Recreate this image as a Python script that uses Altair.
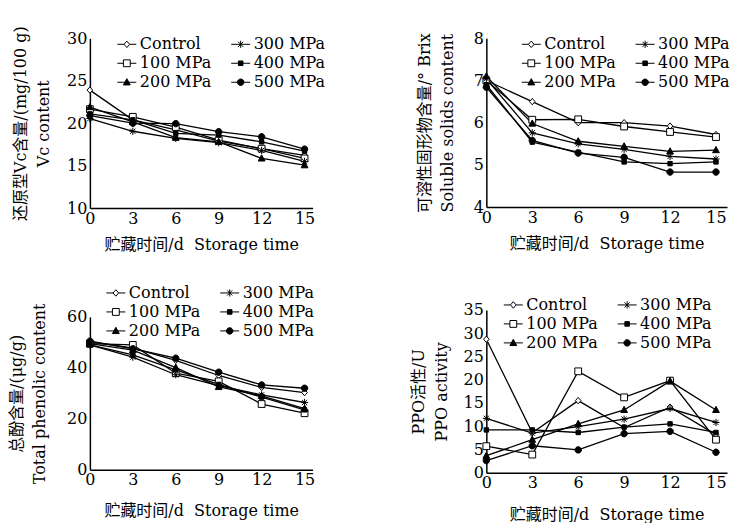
import altair as alt
import pandas as pd

days = [0, 3, 6, 9, 12, 15]
series = ["Control", "100 MPa", "200 MPa", "300 MPa", "400 MPa", "500 MPa"]

vc_values = [
    [23.9, 20.4, 19.2, 17.9, 17.0, 16.2],
    [21.65, 20.75, 19.55, 18.0, 17.0, 15.85],
    [21.9, 20.15, 18.3, 17.8, 15.85, 15.05],
    [20.55, 19.05, 18.2, 17.7, 16.8, 15.5],
    [21.1, 20.4, 18.8, 18.6, 17.8, 16.7],
    [20.9, 20.0, 19.95, 19.0, 18.4, 16.95],
]
ssc_values = [
    [7.0, 6.5, 6.0, 6.0, 5.92, 5.72],
    [7.0, 6.07, 6.08, 5.91, 5.78, 5.66],
    [7.1, 5.98, 5.56, 5.44, 5.32, 5.35],
    [7.04, 5.76, 5.5, 5.37, 5.2, 5.14],
    [6.9, 5.54, 5.3, 5.07, 5.03, 5.07],
    [6.84, 5.58, 5.28, 5.18, 4.83, 4.83],
]
tpc_values = [
    [50.3, 47.7, 42.9, 37.0, 32.3, 30.3],
    [49.5, 49.0, 37.9, 34.7, 25.8, 22.2],
    [49.5, 47.0, 40.1, 32.5, 29.0, 24.0],
    [49.0, 44.2, 37.3, 33.0, 29.4, 26.4],
    [49.0, 45.1, 39.2, 33.5, 28.5, 23.5],
    [50.5, 47.5, 43.8, 38.3, 33.3, 32.0],
]
ppo_values = [
    [28.7, 8.6, 15.5, 9.7, 14.1, 8.2],
    [5.7, 3.9, 21.8, 16.2, 19.8, 7.1],
    [3.65, 7.1, 10.5, 13.5, 19.7, 13.5],
    [11.7, 8.5, 9.9, 11.5, 13.8, 10.8],
    [9.2, 9.2, 8.65, 9.8, 10.5, 8.65],
    [2.6, 5.8, 4.9, 8.4, 8.9, 4.4],
]

FONT = "'DejaVu Serif', 'Noto Sans CJK SC', serif"
XTITLE = "贮藏时间/d\u00a0 Storage time"

plot_paths = {
    "Control": "M0,-0.8L0.7,0L0,0.8L-0.7,0Z",
    "100 MPa": "M-0.85,-0.85H0.85V0.85H-0.85Z",
    "200 MPa": "M0,-0.9L0.85,0.65H-0.85Z",
    "300 MPa": "M-0.9,0H0.9M0,-0.9V0.9M-0.65,-0.65L0.65,0.65M-0.65,0.65L0.65,-0.65",
    "400 MPa": "M-0.55,-0.55H0.55V0.55H-0.55Z",
    "500 MPa": "M0.8,0A0.8,0.8,0,1,1,-0.8,0A0.8,0.8,0,1,1,0.8,0Z",
}
legend_paths = {
    "Control": "M-1,0H-0.3M0.3,0H1M0,-0.34L0.3,0L0,0.34L-0.3,0Z",
    "100 MPa": "M-1,0H-0.36M0.36,0H1M-0.36,-0.36H0.36V0.36H-0.36Z",
    "200 MPa": "M-1,0H1M0,-0.38L0.36,0.28H-0.36Z",
    "300 MPa": "M-1,0H1M0,-0.38V0.38M-0.27,-0.27L0.27,0.27M-0.27,0.27L0.27,-0.27",
    "400 MPa": "M-1,0H1M-0.24,-0.24H0.24V0.24H-0.24Z",
    "500 MPa": "M-1,0H1M0.34,0A0.34,0.34,0,1,1,-0.34,0A0.34,0.34,0,1,1,0.34,0Z",
}
fills = {"Control": "white", "100 MPa": "white", "200 MPa": "black",
         "300 MPa": "black", "400 MPa": "black", "500 MPa": "black"}


def long_df(values):
    rows = []
    for s, vals in zip(series, values):
        for d, v in zip(days, vals):
            rows.append({"day": d, "value": v, "series": s})
    return pd.DataFrame(rows)


def make_legend(lx, ly):
    return alt.Legend(
        title=None, orient="none", legendX=lx, legendY=ly, columns=2,
        columnPadding=17, rowPadding=1, symbolSize=361, labelFont=FONT,
        labelFontSize=16, labelColor="black", labelOffset=3, padding=0,
        symbolStrokeColor="black", symbolStrokeWidth=1,
    )


def panel(values, ydom, yvals, ytitle, w, h, xmax, ext, ytp, xtp, lx, ly):
    df = long_df(values)
    x = alt.X("day:Q", scale=alt.Scale(domain=[0, xmax], nice=False, zero=False),
              axis=alt.Axis(values=days, title=XTITLE, labelFlush=False,
                            labelPadding=2, titlePadding=xtp))
    y = alt.Y("value:Q", scale=alt.Scale(domain=ydom, nice=False, zero=False),
              axis=alt.Axis(values=yvals, title=ytitle, minExtent=ext, maxExtent=ext,
                            labelPadding=3, titlePadding=ytp, titleLineHeight=23))
    base = alt.Chart(df)
    lines = base.mark_line(color="black", strokeWidth=1.3).encode(
        x=x, y=y, detail="series:N")
    pts = base.mark_point(filled=True, size=64, stroke="black", strokeWidth=1, opacity=1).encode(
        x=x, y=y,
        shape=alt.Shape("series:N", scale=alt.Scale(domain=series,
                        range=[plot_paths[s] for s in series]), legend=None),
        fill=alt.Fill("series:N", scale=alt.Scale(domain=series,
                      range=[fills[s] for s in series]), legend=None),
    )
    leg = make_legend(lx, ly)
    key = base.transform_filter("false").mark_point(
        filled=True, size=64, strokeWidth=1, opacity=1).encode(
        x=x, y=y,
        shape=alt.Shape("series:N", scale=alt.Scale(domain=series,
                        range=[legend_paths[s] for s in series]), legend=leg),
        fill=alt.Fill("series:N", scale=alt.Scale(domain=series,
                      range=[fills[s] for s in series]), legend=leg),
        stroke=alt.Stroke("series:N", scale=alt.Scale(domain=series,
                          range=["black"] * len(series)), legend=leg),
    )
    return alt.layer(lines, pts, key).resolve_scale(
        shape="independent", fill="independent", stroke="independent"
    ).properties(width=w, height=h)


p1 = panel(vc_values, [10, 30], [10, 15, 20, 25, 30],
           ["还原型Vc含量/(mg/100 g)", "Vc content"], 223, 170, 15.56, 23, 15, 10, 27, -4)
p2 = panel(ssc_values, [4, 8], [4, 5, 6, 7, 8],
           ["可溶性固形物含量/° Brix", "Soluble solids content"], 241, 169, 15.72, 13, 18, 10, 35, -4)
p3 = panel(tpc_values, [0, 60], [0, 20, 40, 60],
           ["总酚含量/(μg/g)", "Total phenolic content"], 223, 153, 15.56, 23, 19, 15, 16, -34)
p4 = panel(ppo_values, [0, 35], [0, 5, 10, 15, 20, 25, 30, 35],
           ["PPO活性/U", "PPO activity"], 241, 163, 15.72, 23, 14, 16, 17, -15)


def indep(c):
    return c.resolve_scale(shape="independent", fill="independent", stroke="independent").resolve_legend(
        shape="independent", fill="independent", stroke="independent")


left = indep(alt.vconcat(p1, p3, spacing=109, bounds="flush"))
right = indep(alt.vconcat(p2, p4, spacing=103, bounds="flush"))
chart = indep(alt.hconcat(left, right, spacing=397, bounds="flush")).properties(
    padding={"left": 1, "top": 17, "right": 0, "bottom": 0}, background="white"
).configure_view(stroke=None).configure_axis(
    labelFont=FONT, labelFontSize=16, labelColor="black",
    titleFont=FONT, titleFontSize=16, titleFontWeight="normal", titleColor="black",
    domainColor="black", domainWidth=1.5, ticks=False, grid=False,
)

chart.save("out.html", embed_options={"renderer": "svg", "actions": False})
